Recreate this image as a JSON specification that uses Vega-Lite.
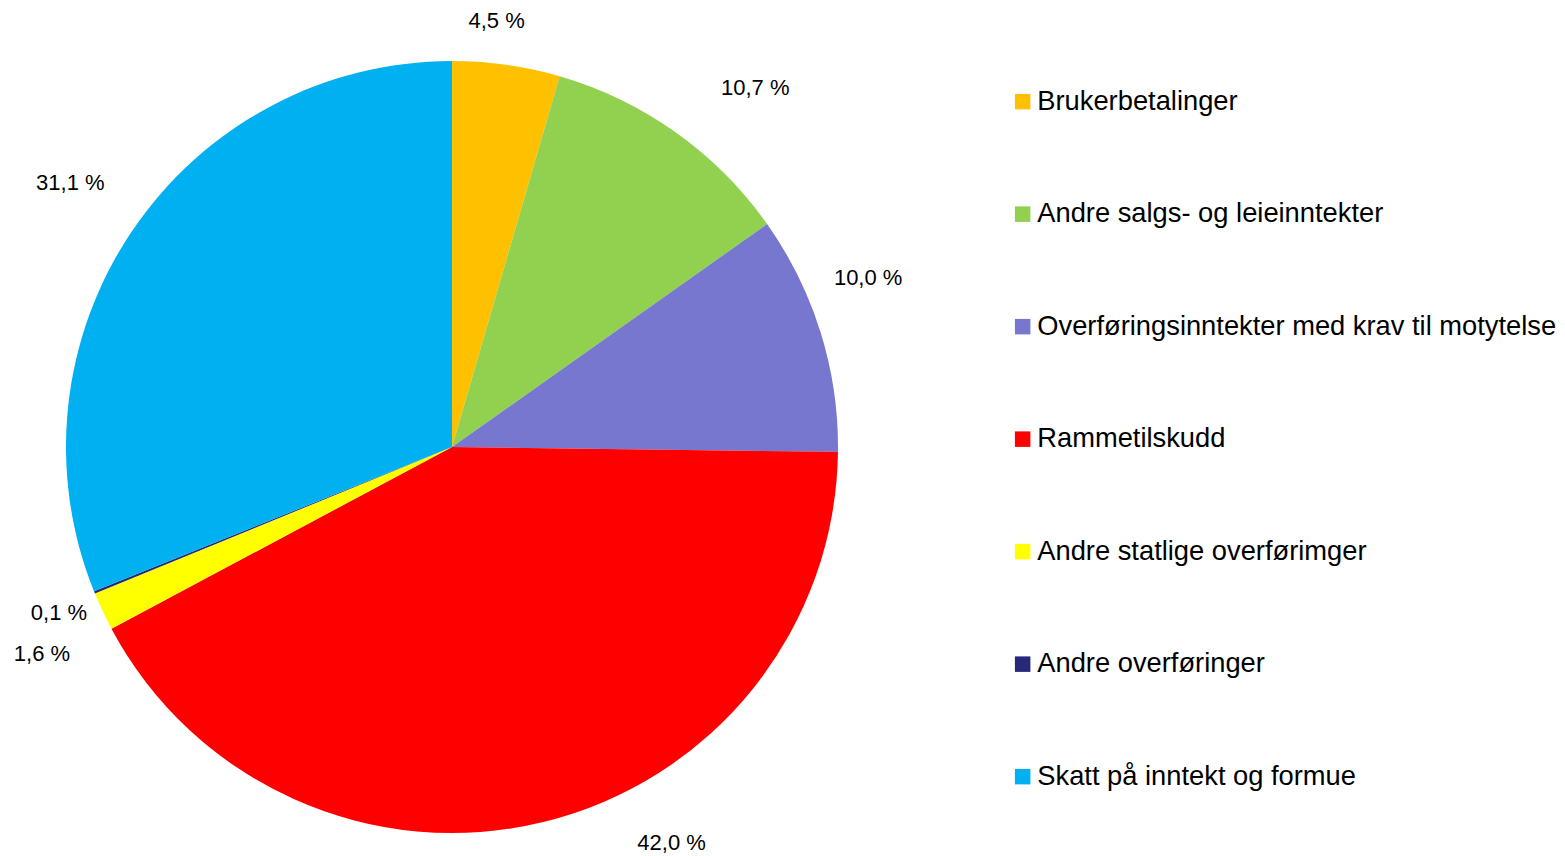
{
  "$schema": "https://vega.github.io/schema/vega-lite/v6.json",
  "autosize": {"type": "none"},
  "width": 904,
  "height": 894,
  "padding": {"left": 0, "top": 0, "right": 661, "bottom": 0},
  "background": "white",
  "config": {"view": {"stroke": null}, "text": {"font": "Liberation Sans", "fontSize": 22, "color": "#000000"}},
  "data": {
    "values": [
      {"kategori": "Brukerbetalinger", "andel": 4.5, "etikett": "4,5 %", "rekkefolge": 1},
      {"kategori": "Andre salgs- og leieinntekter", "andel": 10.7, "etikett": "10,7 %", "rekkefolge": 2},
      {"kategori": "Overføringsinntekter med krav til motytelse", "andel": 10.0, "etikett": "10,0 %", "rekkefolge": 3},
      {"kategori": "Rammetilskudd", "andel": 42.0, "etikett": "42,0 %", "rekkefolge": 4},
      {"kategori": "Andre statlige overførimger", "andel": 1.6, "etikett": "1,6 %", "rekkefolge": 5},
      {"kategori": "Andre overføringer", "andel": 0.1, "etikett": "0,1 %", "rekkefolge": 6},
      {"kategori": "Skatt på inntekt og formue", "andel": 31.1, "etikett": "31,1 %", "rekkefolge": 7}
    ]
  },
  "encoding": {
    "theta": {"field": "andel", "type": "quantitative", "stack": true},
    "order": {"field": "rekkefolge", "type": "quantitative"}
  },
  "layer": [
    {
      "mark": {"type": "arc", "outerRadius": 386, "stroke": null},
      "encoding": {
        "color": {
          "field": "kategori",
          "type": "nominal",
          "scale": {
            "domain": ["Brukerbetalinger", "Andre salgs- og leieinntekter", "Overføringsinntekter med krav til motytelse", "Rammetilskudd", "Andre statlige overførimger", "Andre overføringer", "Skatt på inntekt og formue"],
            "range": ["#FFC000", "#92D050", "#7777CF", "#FF0000", "#FFFF00", "#28287A", "#00B0F0"]
          },
          "legend": {
            "orient": "none",
            "legendX": 1009,
            "legendY": 88,
            "title": null,
            "symbolType": "square",
            "symbolSize": 240,
            "symbolStrokeWidth": 0,
            "symbolOpacity": 1,
            "labelFont": "Liberation Sans",
            "labelFontSize": 27.3,
            "labelColor": "#000000",
            "labelLimit": 700,
            "labelOffset": 1,
            "rowPadding": 84.5
          }
        }
      }
    },
    {
      "mark": {"type": "text", "radius": 430, "dx": -16, "dy": 0},
      "encoding": {"text": {"condition": {"test": "datum.rekkefolge == 1", "field": "etikett"}, "value": ""}}
    },
    {
      "mark": {"type": "text", "radius": 440, "dx": 48, "dy": -1},
      "encoding": {"text": {"condition": {"test": "datum.rekkefolge == 2", "field": "etikett"}, "value": ""}}
    },
    {
      "mark": {"type": "text", "radius": 440, "dx": -4, "dy": -38},
      "encoding": {"text": {"condition": {"test": "datum.rekkefolge == 3", "field": "etikett"}, "value": ""}}
    },
    {
      "mark": {"type": "text", "radius": 400, "dx": 125, "dy": 7},
      "encoding": {"text": {"condition": {"test": "datum.rekkefolge == 4", "field": "etikett"}, "value": ""}}
    },
    {
      "mark": {"type": "text", "radius": 420, "dx": -30, "dy": 28},
      "encoding": {"text": {"condition": {"test": "datum.rekkefolge == 5", "field": "etikett"}, "value": ""}}
    },
    {
      "mark": {"type": "text", "radius": 420, "dx": -4, "dy": 8},
      "encoding": {"text": {"condition": {"test": "datum.rekkefolge == 6", "field": "etikett"}, "value": ""}}
    },
    {
      "mark": {"type": "text", "radius": 440, "dx": -17, "dy": -18},
      "encoding": {"text": {"condition": {"test": "datum.rekkefolge == 7", "field": "etikett"}, "value": ""}}
    }
  ]
}
